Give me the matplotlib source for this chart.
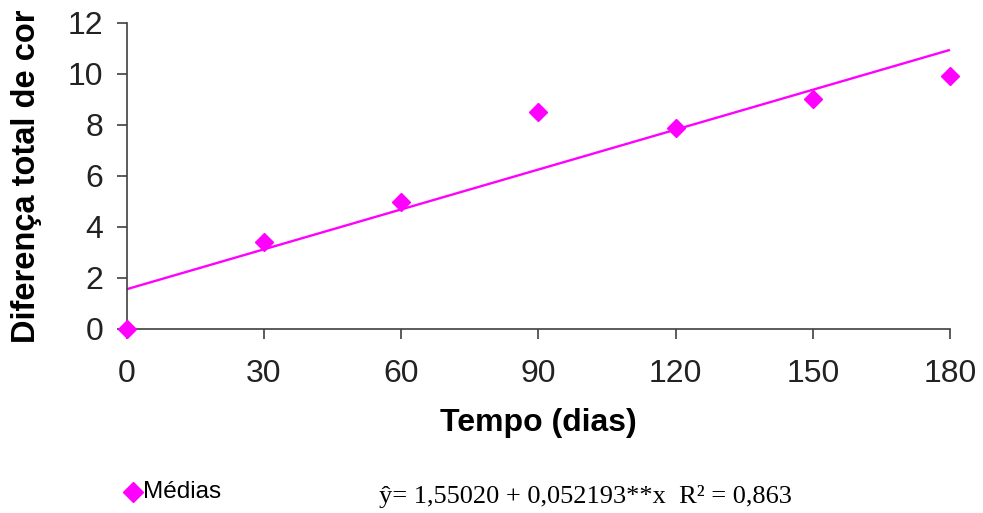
import matplotlib
matplotlib.use("Agg")
import matplotlib.pyplot as plt
from matplotlib.lines import Line2D
import numpy as np

dias = [0, 30, 60, 90, 120, 150, 180]
medias = [0.0, 3.42, 4.96, 8.5, 7.87, 9.0, 9.92]
b0, b1 = 1.55020, 0.052193
xticks = [0, 30, 60, 90, 120, 150, 180]
yticks = [0, 2, 4, 6, 8, 10, 12]

mag = "#FF00FF"
plt.rcParams['font.family'] = ['Liberation Sans', 'DejaVu Sans']

W, H = 983, 513
fig = plt.figure(figsize=(W/100, H/100), dpi=100)
ax = fig.add_axes([126.7/W, 1-328.7/H, (950-126.7)/W, (328.7-23)/H])

xl = np.array([dias[0], dias[-1]])
ax.plot(xl, b0 + b1*xl, color=mag, lw=1.7, solid_capstyle='butt', clip_on=False, zorder=2)
ax.plot(dias, medias, ls='none', marker='D', ms=9.5, color=mag, mec=mag, clip_on=False, zorder=3)

ax.set_xlim(0, 180)
ax.set_ylim(0, 12)
ax.set_xticks(xticks)
ax.set_yticks(yticks)
for s in ['top', 'right']:
    ax.spines[s].set_visible(False)
for s in ['left', 'bottom']:
    ax.spines[s].set_color('#404040')
    ax.spines[s].set_linewidth(1.2)
ax.tick_params(axis='both', direction='out', length=7, width=1.2, color='#404040',
               labelsize=23, labelcolor='#222222')
ax.tick_params(axis='x', pad=15)
ax.tick_params(axis='y', pad=10)

ax.set_xlabel('Tempo (dias)', fontsize=23, fontweight='bold')
ax.set_ylabel('Diferença total de cor', fontsize=23.5, fontweight='bold')
ax.yaxis.set_label_coords(-100/(950-126.7), 0.5)
ax.xaxis.set_label_coords(0.5, -(423-328.7)/(328.7-23))
ax.xaxis.label.set_va('center')
ax.yaxis.label.set_va('center')

fig.lines.append(Line2D([132.5/W], [1-492/H], marker='D', ms=10, color=mag,
                        ls='none', transform=fig.transFigure))
fig.text(143/W, 1-492.5/H, 'Médias', fontsize=17.5, va='center', ha='left', color='black')
fig.text(585/W, 1-496/H, 'ŷ= 1,55020 + 0,052193**x  R² = 0,863', fontsize=19,
         va='center', ha='center', family=['Liberation Serif', 'DejaVu Serif'])

fig.savefig('out.png', dpi=100)
